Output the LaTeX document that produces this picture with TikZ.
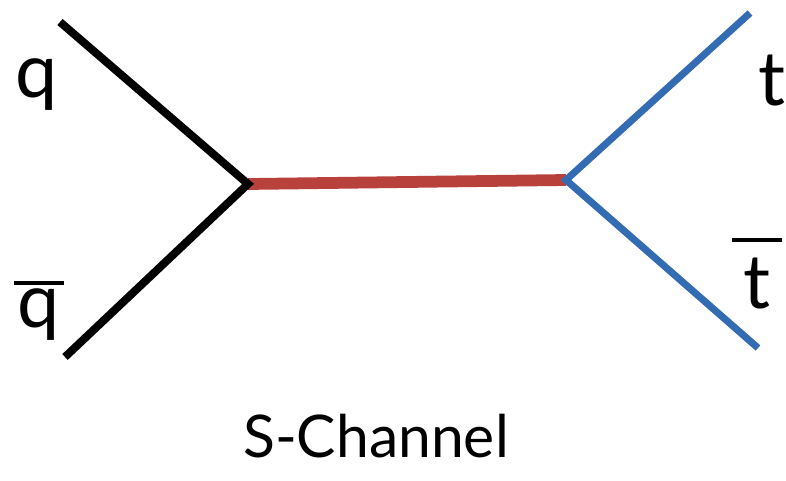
\documentclass[tikz,border=0pt]{standalone}
\usepackage{fontspec}
\setmainfont{Lato}
\definecolor{bosonred}{RGB}{185,65,60}
\definecolor{topblue}{RGB}{52,108,180}
\newcommand{\antipart}[2][6pt]{\shortstack{\rule{42pt}{3.4pt}\\[#1]#2}}
\begin{document}
\begin{tikzpicture}[x=0.85pt, y=-0.85pt,
  quark/.style={line width=6.8pt, black},
  boson/.style={line width=10pt, bosonred},
  topq/.style={line width=6pt, topblue},
  lbl/.style={font=\fontsize{64}{70}\selectfont, anchor=base, inner sep=0pt}]
  \useasboundingbox (0,0) rectangle (786,480);
  % external legs and vertices
  \coordinate (qin) at (60,22);
  \coordinate (qbarin) at (65,357);
  \coordinate (vl) at (248,184);
  \coordinate (vr) at (566,180);
  \coordinate (tout) at (750,13);
  \coordinate (tbarout) at (758,348);
  \draw[boson] (vl) -- (vr);
  \draw[quark] (qin) -- (vl) -- (qbarin);
  \draw[topq] (tout) -- (vr) -- (tbarout);
  % labels
  \node[lbl] (q) at (37,97) {q};
  \node[lbl] (qbar) at (39,327) {\antipart[0pt]{q}};
  \node[lbl] (t) at (772,105) {t};
  \node[lbl] (tbar) at (757,308) {\antipart[10pt]{t}};
  \node[font=\fontsize{50}{56}\selectfont, anchor=base, inner sep=0pt] (title) at (376,457) {S-Channel};
\end{tikzpicture}
\end{document}
